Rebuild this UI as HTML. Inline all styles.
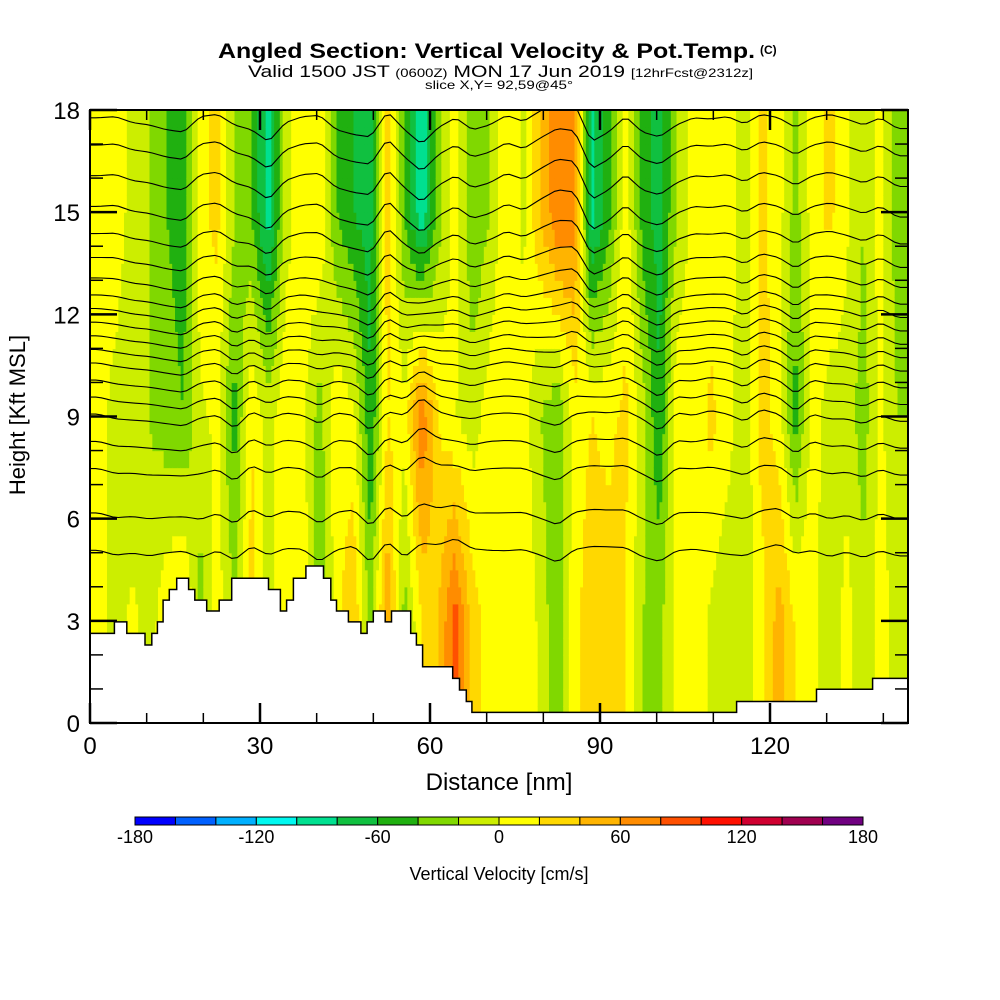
<!DOCTYPE html>
<html><head><meta charset="utf-8"><style>
html,body{margin:0;padding:0;background:#fff;}
svg{display:block;font-family:"Liberation Sans",sans-serif;}
</style></head><body>
<svg id="chart" width="1000" height="1000" viewBox="0 0 1000 1000" xmlns="http://www.w3.org/2000/svg">
<rect width="1000" height="1000" fill="#fff"/>
<g>
<text x="218" y="58" font-size="21" font-weight="bold" textLength="537" lengthAdjust="spacingAndGlyphs">Angled Section: Vertical Velocity &amp; Pot.Temp.</text>
<text x="760" y="54" font-size="12" font-weight="bold">(C)</text>
<text x="248" y="77" font-size="17" textLength="505" lengthAdjust="spacingAndGlyphs">Valid 1500 JST <tspan font-size="12">(0600Z)</tspan> MON 17 Jun 2019 <tspan font-size="12">[12hrFcst@2312z]</tspan></text>
<text x="425" y="89" font-size="12" textLength="148" lengthAdjust="spacingAndGlyphs">slice X,Y= 92,59@45°</text>
</g>
<defs><clipPath id="plotclip"><rect x="90" y="110" width="818" height="613"/></clipPath></defs>
<g id="field" clip-path="url(#plotclip)"></g>
<g id="contours" clip-path="url(#plotclip)"></g>
<g id="terrain" clip-path="url(#plotclip)"></g>
<rect x="90" y="110" width="818" height="613" fill="none" stroke="#000" stroke-width="2"/>
<g id="axes"></g>
<text x="25" y="415" font-size="22" text-anchor="middle" transform="rotate(-90 25 415)">Height [Kft MSL]</text>
<text x="499" y="790" font-size="24" text-anchor="middle">Distance [nm]</text>
<g id="colorbar"></g>
<text x="499" y="880" font-size="18" text-anchor="middle">Vertical Velocity [cm/s]</text>
</svg>
<script>
// ---- data ----
const colCenters = [1.5,4.5,7.5,10.5,13.5,16.5,19.5,22.5,25.5,28.5,31.5,34.5,37.5,40.5,43.5,46.5,49.5,52.5,55.5,58.5,61.5,64.5,67.5,70.5,73.5,76.5,79.5,82.5,85.5,88.5,91.5,94.5,97.5,100.5,103.5,106.5,109.5,112.5,115.5,118.5,121.5,124.5,127.5,130.5,133.5,136.5,139.5,142.5];
const rowHeights = [3, 9, 15];
const wLow  = [10,-10,5,-10,15,30,-30,10,-20,30,-10,20,20,-40,10,40,-30,60,-30,20,40,90,30,10,5,15,-5,-40,15,30,30,20,-20,-25,5,20,-5,-15,-10,10,50,20,10,-20,10,-15,10,-10];
const wMid  = [10,-10,-15,-20,-30,-40,-5,5,-50,20,-10,15,5,-30,15,5,-60,20,5,80,20,0,-10,10,15,10,-20,-40,10,20,15,25,-10,-60,15,5,25,10,-20,30,10,-50,10,-10,-10,-30,5,-20];
const wHigh = [10,15,-10,-20,-40,-50,15,25,-20,-40,-90,-10,15,20,-40,-60,-70,35,-40,-100,-30,10,-40,-20,20,-5,40,80,70,-90,-50,15,-50,-70,-20,10,5,15,-15,25,10,-30,10,25,5,-20,10,-35];
const thetaLevels = [17.7,16.9,16.0,15.1,14.3,13.6,13.0,12.5,12.1,11.7,11.3,10.9,10.5,10.0,9.5,9.0,8.2,7.4,6.1,5.0];
const terrainX = [0,4.3,6.5,9.7,10.9,11.9,12.9,14,15.3,17.4,18.5,20.6,22.8,25,31.5,33.6,34.7,35.9,38.1,41.2,42.5,43.5,45.6,47.8,48.9,50,52.1,53.2,56.6,57.6,58.7,64,65.2,66.4,67.4,114.1,128.2,138.1,145];
const terrainH = [2.63,2.97,2.63,2.29,2.63,2.97,3.61,3.92,4.25,3.92,3.61,3.29,3.61,4.25,3.92,3.29,3.61,4.25,4.61,4.25,3.61,3.29,2.97,2.63,2.97,3.29,2.97,3.29,2.63,2.29,1.65,1.31,0.97,0.63,0.31,0.63,0.99,1.31,1.31];
const cbTicks = [-180,-120,-60,0,60,120,180];
const cbColors = ['#0000ff','#0060ff','#00b0ff','#00f8f0','#00e090','#10c040','#20b010','#80d800','#ccee00','#ffff00','#ffd800','#ffb400','#ff8c00','#ff5000','#ff1000','#d00030','#a00050','#700080'];
const xTicks = [0,30,60,90,120];
const yTicks = [0,3,6,9,12,15,18];

// ---- scales ----
const X0=90,X1=908,Y0=723,Y1=110;
const xs = v => X0 + v*(170/30);
const ys = v => Y0 - v*((Y0-Y1)/18);
const NS='http://www.w3.org/2000/svg';
function mk(tag, attrs, parent){const e=document.createElementNS(NS,tag);for(const k in attrs)e.setAttribute(k,attrs[k]);parent.appendChild(e);return e;}
function colorFor(w){let i=Math.floor((w+180)/20);i=Math.max(0,Math.min(17,i));return cbColors[i];}
function interp1(arr, xsArr, x){
  if(x<=xsArr[0])return arr[0];
  if(x>=xsArr[xsArr.length-1])return arr[arr.length-1];
  for(let i=0;i<xsArr.length-1;i++){if(x<=xsArr[i+1]){const t=(x-xsArr[i])/(xsArr[i+1]-xsArr[i]);return arr[i]*(1-t)+arr[i+1]*t;}}
}
function wAt(x,h){
  const lo=interp1(wLow,colCenters,x), mi=interp1(wMid,colCenters,x), hi=interp1(wHigh,colCenters,x);
  return interp1([lo,mi,hi],rowHeights,h);
}
// field
const field=document.getElementById('field');
const dx=0.5, dh=0.5;
for(let x=0;x<144.5;x+=dx){
  for(let h=0;h<18;h+=dh){
    const w=wAt(x+dx/2,h+dh/2);
    const r=mk('rect',{x:xs(x).toFixed(2),y:ys(h+dh).toFixed(2),width:(xs(x+dx)-xs(x)+0.6).toFixed(2),height:(ys(h)-ys(h+dh)+0.6).toFixed(2),fill:colorFor(w)},field);
    
    
  }
}
// contours
const cont=document.getElementById('contours');
thetaLevels.forEach((lv)=>{
  let d='';
  for(let x=0;x<=145;x+=1){
    const h=lv+0.007*wAt(x,lv);
    d+=(x===0?'M':'L')+xs(x).toFixed(1)+','+ys(h).toFixed(1);
  }
  const p=mk('path',{d:d,fill:'none',stroke:'#000','stroke-width':1.1},cont);
  
  
});
// terrain
const ter=document.getElementById('terrain');
let td='M'+xs(0)+','+ys(0);
for(let i=0;i<terrainX.length-1;i++){
  td+=' L'+xs(terrainX[i]).toFixed(1)+','+ys(terrainH[i]).toFixed(1)+' L'+xs(terrainX[i+1]).toFixed(1)+','+ys(terrainH[i]).toFixed(1);
}
td+=' L'+xs(145)+','+ys(0)+' Z';
const tp=mk('path',{d:td,fill:'#fff',stroke:'#000','stroke-width':1.5},ter);


// axes
const ax=document.getElementById('axes');
for(let v=0;v<=144;v+=10){
  const major=(v%30===0), L=major?20:10, x=xs(v);
  mk('line',{x1:x,y1:Y0,x2:x,y2:Y0-L,stroke:'#000','stroke-width':major?2.5:1.5},ax);
  mk('line',{x1:x,y1:Y1,x2:x,y2:Y1+L,stroke:'#000','stroke-width':major?2.5:1.5},ax);
}
for(let v=0;v<=18;v+=1){
  const major=(v%3===0), L=major?27:13, y=ys(v);
  mk('line',{x1:X0,y1:y,x2:X0+L,y2:y,stroke:'#000','stroke-width':major?2.5:1.5},ax);
  mk('line',{x1:X1,y1:y,x2:X1-L,y2:y,stroke:'#000','stroke-width':major?2.5:1.5},ax);
}
xTicks.forEach(v=>{
  const t=mk('text',{x:xs(v),y:754,'font-size':24,'text-anchor':'middle'},ax);t.textContent=v;
  
  
});
yTicks.forEach(v=>{
  const t=mk('text',{x:80,y:ys(v)+9,'font-size':24,'text-anchor':'end'},ax);t.textContent=v;
  
  
});
// colorbar
const cb=document.getElementById('colorbar');
const cbx0=135,cbx1=863,bw=(cbx1-cbx0)/cbColors.length;
cbColors.forEach((c,i)=>{
  const r=mk('rect',{x:cbx0+i*bw,y:817,width:bw,height:8,fill:c,stroke:'#000','stroke-width':1},cb);
  
  
});
cbTicks.forEach(v=>{
  const t=mk('text',{x:cbx0+(v+180)/360*(cbx1-cbx0),y:843,'font-size':18,'text-anchor':'middle'},cb);t.textContent=v;
  
  
});
</script>
</body></html>
